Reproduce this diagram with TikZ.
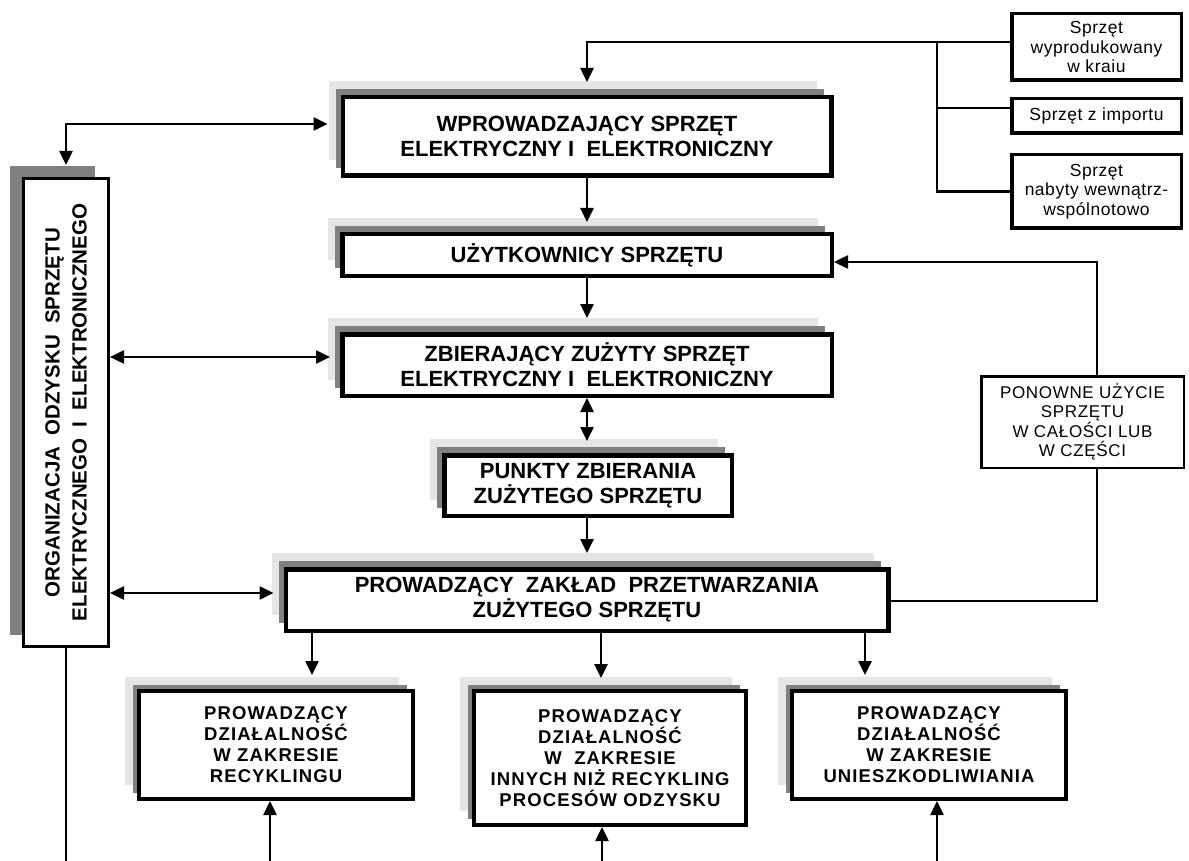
\documentclass[tikz,border=0pt]{standalone}
\usepackage{fontspec}
\setmainfont{Liberation Sans}
\usepackage{graphicx}
\usetikzlibrary{arrows.meta,shadows,calc}
\definecolor{shlight}{gray}{0.9}
\definecolor{shdark}{gray}{0.5}
\tikzset{
  boxbase/.style={draw, fill=white, inner sep=0pt, align=center},
  mainbox/.style={boxbase, line width=4.5pt,
    font=\bfseries\fontsize{22}{25}\selectfont,
    general shadow={shadow xshift=-14pt, shadow yshift=16pt, fill=shlight},
    general shadow={shadow xshift=-7pt, shadow yshift=8pt, fill=shdark}},
  botbox/.style={boxbase, line width=4pt,
    font=\bfseries\fontsize{18.5}{21}\selectfont\addfontfeature{LetterSpace=6},
    general shadow={shadow xshift=-14pt, shadow yshift=14pt, fill=shlight},
    general shadow={shadow xshift=-6pt, shadow yshift=6pt, fill=shdark}},
  orgbox/.style={boxbase, line width=3pt,
    general shadow={shadow xshift=-14pt, shadow yshift=12pt, fill=shdark}},
  srcbox/.style={boxbase, line width=3.5pt,
    font=\fontsize{17.5}{19.5}\selectfont\addfontfeature{LetterSpace=3}},
  reusebox/.style={boxbase, line width=2.5pt,
    font=\fontsize{17}{19.5}\selectfont\addfontfeature{LetterSpace=4}},
  conn/.style={line width=2.5pt},
  arr/.style={conn, -{Triangle[length=14pt,width=13pt]}},
  dblarr/.style={conn, {Triangle[length=14pt,width=13pt]}-{Triangle[length=14pt,width=13pt]}}
}
\begin{document}
\begin{tikzpicture}[x=1pt,y=-1pt]
\useasboundingbox (0,0) rectangle (1189,861);

% main column
\node[mainbox, minimum width=488.5pt, minimum height=78.5pt] (wpr) at (587,136.5)
  {WPROWADZAJĄCY SPRZĘT\\ELEKTRYCZNY I\ \ ELEKTRONICZNY};
\node[mainbox, minimum width=489.5pt, minimum height=41.5pt] (uzyt) at (587,255)
  {UŻYTKOWNICY SPRZĘTU};
\node[mainbox, minimum width=489.5pt, minimum height=61.5pt] (zbier) at (587,365)
  {ZBIERAJĄCY ZUŻYTY SPRZĘT\\ELEKTRYCZNY I\ \ ELEKTRONICZNY};
\node[mainbox, minimum width=287.5pt, minimum height=60.5pt] (punkty) at (588,485.5)
  {PUNKTY ZBIERANIA\\ZUŻYTEGO SPRZĘTU};
\node[mainbox, minimum width=602.5pt, minimum height=61.5pt] (zaklad) at (587,600)
  {PROWADZĄCY\ \ ZAKŁAD\ \ PRZETWARZANIA\\ZUŻYTEGO SPRZĘTU};

% left organisation box
\node[orgbox, minimum width=85pt, minimum height=468pt] (org) at (66,412.5)
  {\rotatebox{90}{\parbox{450pt}{\centering\bfseries\fontsize{20.5}{27}\selectfont
   ORGANIZACJA\ \ ODZYSKU\ \ SPRZĘTU\\ELEKTRYCZNEGO\ \ I\ \ ELEKTRONICZNEGO}}};

% bottom boxes
\node[botbox, minimum width=274pt, minimum height=108pt] (recyk) at (276,745)
  {PROWADZĄCY\\DZIAŁALNOŚĆ\\W ZAKRESIE\\RECYKLINGU};
\node[botbox, minimum width=272pt, minimum height=134pt] (inne) at (610,758)
  {PROWADZĄCY\\DZIAŁALNOŚĆ\\W\ \ ZAKRESIE\\INNYCH NIŻ RECYKLING\\PROCESÓW ODZYSKU};
\node[botbox, minimum width=274pt, minimum height=108pt] (unies) at (929,745)
  {PROWADZĄCY\\DZIAŁALNOŚĆ\\W ZAKRESIE\\UNIESZKODLIWIANIA};

% source boxes
\node[srcbox, minimum width=169.5pt, minimum height=66.5pt] (kraj) at (1096.5,47)
  {Sprzęt\\wyprodukowany\\w kraiu};
\node[srcbox, minimum width=169.5pt, minimum height=34.5pt] (import) at (1096.5,116)
  {Sprzęt z importu};
\node[srcbox, minimum width=169.5pt, minimum height=73.5pt] (wsp) at (1096.5,191.5)
  {Sprzęt\\nabyty wewnątrz-\\wspólnotowo};

% reuse box
\node[reusebox, minimum width=202.5pt, minimum height=91.5pt] (ponowne) at (1082.5,422)
  {PONOWNE UŻYCIE\\SPRZĘTU\\W CAŁOŚCI LUB\\W CZĘŚCI};

% source connectors
\draw[arr] ([yshift=5pt]kraj.west) -| ($(wpr.north)+(0,-13)$);
\coordinate (br) at (937,42);
\draw[conn] (br) |- ([yshift=8pt]import.west);
\draw[conn] (br) |- (wsp.west);

% main column connectors
\draw[arr] (wpr.south) -- ($(uzyt.north)+(0,-10)$);
\draw[arr] (uzyt.south) -- ($(zbier.north)+(0,-14)$);
\draw[dblarr] (zbier.south) -- ($(zbier.south |- punkty.north)+(0,-12)$);
\draw[arr] (punkty.south -| zbier.south) -- ($(zbier.south |- zaklad.north)+(0,-14)$);

% to bottom boxes
\coordinate (t1) at ($(recyk.north)+(36,-14)$);
\coordinate (t2) at ($(inne.north)+(-9,-11)$);
\coordinate (t3) at ($(unies.north)+(-64,-14)$);
\draw[arr] (zaklad.south -| t1) -- (t1);
\draw[arr] (zaklad.south -| t2) -- (t2);
\draw[arr] (zaklad.south -| t3) -- (t3);

% from below
\coordinate (e1) at (270,861);
\coordinate (e2) at (602,861);
\coordinate (e3) at (937,861);
\draw[arr] (e1) -- (e1 |- recyk.south);
\draw[arr] (e2) -- (e2 |- inne.south);
\draw[arr] (e3) -- (e3 |- unies.south);
\coordinate (e0) at (66,861);
\draw[conn] (org.south) -- (e0);

% organisation links
\draw[dblarr] ($(wpr.west)+(-13,-12.5)$) -| ($(org.north)+(0,-12)$);
\coordinate (z1) at ($(zbier.west)+(-10,-8)$);
\draw[dblarr] (org.east |- z1) -- (z1);
\coordinate (z2) at ($(zaklad.west)+(-10,-7)$);
\draw[dblarr] (org.east |- z2) -- (z2);

% reuse loop
\draw[conn] ($(zaklad.east)+(0,1)$) -| ($(ponowne.south)+(14.5,0)$);
\draw[arr] ($(ponowne.north)+(14.5,0)$) |- ($(uzyt.east)+(0,7)$);
\end{tikzpicture}
\end{document}
